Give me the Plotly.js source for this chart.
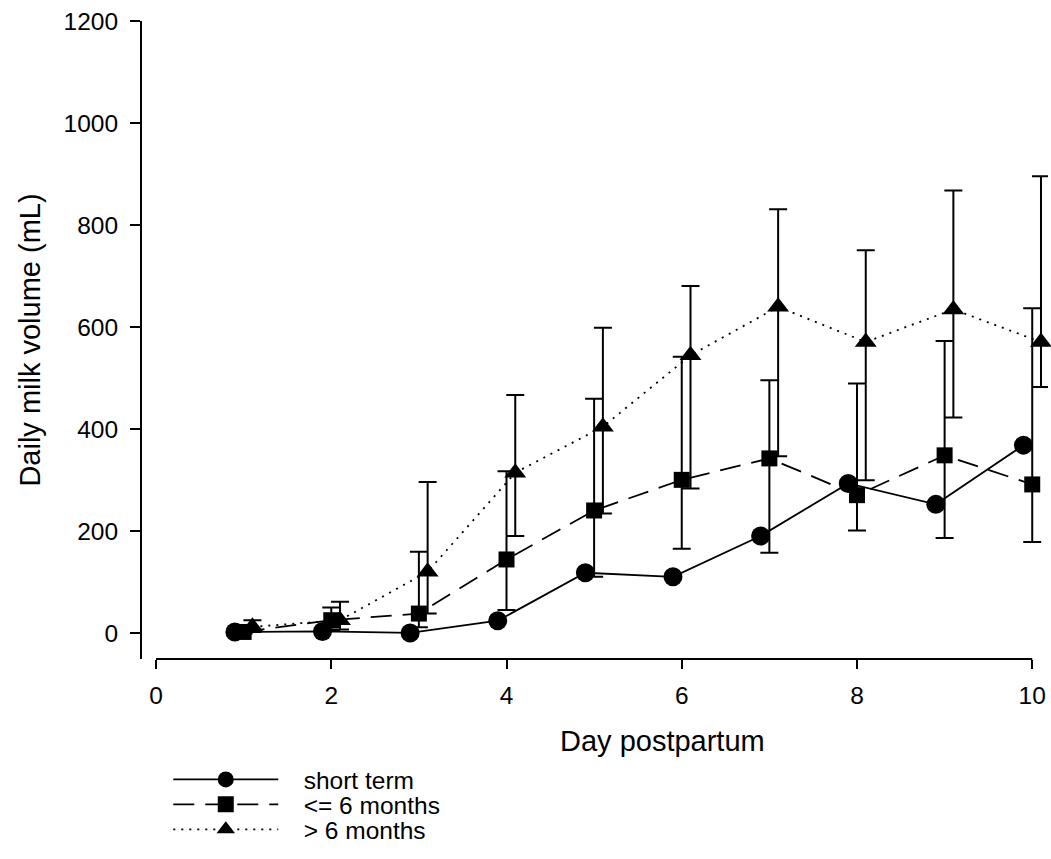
<!DOCTYPE html>
<html><head><meta charset="utf-8">
<script src="https://cdn.plot.ly/plotly-3.0.1.min.js"></script>
<style>html,body{margin:0;padding:0;background:#fff}#chart{width:1051px;height:859px}</style>
</head><body><div id="chart"></div>
<script>
// Day postpartum
const days = [1, 2, 3, 4, 5, 6, 7, 8, 9, 10];
// short term (means only)
const shortTerm = [3, 4, 1, 25, 119, 111, 191, 294, 253, 369];
// <= 6 months
const upTo6 = [3, 26, 39, 145, 241, 301, 343, 271, 349, 292];
const upTo6Upper = [8, 51, 160, 318, 460, 542, 496, 490, 573, 637];
const upTo6Lower = [0, 5, 12, 46, 111, 166, 158, 202, 187, 179];
// > 6 months
const over6 = [13, 26, 121, 315, 405, 545, 640, 571, 635, 571];
const over6Upper = [26, 62, 297, 467, 599, 681, 831, 751, 868, 896];
const over6Lower = [3, 8, 39, 191, 235, 284, 347, 300, 423, 483];
const seriesNames = ['short term', '<= 6 months', '> 6 months'];
const xTicks = [0, 2, 4, 6, 8, 10];
const yTicks = [0, 200, 400, 600, 800, 1000, 1200];

const FONT = 'Liberation Sans, Arial, sans-serif';
const PAD = '\u00a0\u00a0\u00a0';
const shift = (arr, dx) => arr.map(v => v + dx);
const diff = (a, b) => a.map((v, i) => v - b[i]);

const traces = [
  {
    x: shift(days, -0.1), y: shortTerm, name: PAD + seriesNames[0], type: 'scatter', mode: 'lines+markers',
    line: {color: '#000', width: 1.8},
    marker: {symbol: 'circle', size: 19, color: '#000'},
    cliponaxis: false, legend: 'legend'
  },
  {
    x: days, y: upTo6, name: PAD + seriesNames[1], type: 'scatter', mode: 'lines+markers',
    line: {color: '#000', width: 1.8, dash: '21px,11px'},
    marker: {symbol: 'square', size: 16, color: '#000'},
    error_y: {type: 'data', symmetric: false, array: diff(upTo6Upper, upTo6), arrayminus: diff(upTo6, upTo6Lower),
              color: '#000', thickness: 2, width: 9},
    cliponaxis: false, legend: 'legend2'
  },
  {
    x: shift(days, 0.1), y: over6, name: PAD + seriesNames[2], type: 'scatter', mode: 'lines+markers',
    line: {color: '#000', width: 1.8, dash: '2px,6px'},
    marker: {symbol: 'triangle-up', size: 19, color: '#000'},
    error_y: {type: 'data', symmetric: false, array: diff(over6Upper, over6), arrayminus: diff(over6, over6Lower),
              color: '#000', thickness: 2, width: 9},
    cliponaxis: false, legend: 'legend3'
  }
];

const legendBase = {
  x: 0.029, xref: 'paper', xanchor: 'left', yref: 'container', yanchor: 'top',
  font: {family: FONT, size: 24.5, color: '#000'},
  itemwidth: 105, bgcolor: 'rgba(0,0,0,0)', borderwidth: 0
};

const layout = {
  width: 1051, height: 859,
  margin: {l: 142, r: 3, t: 21, b: 200},
  paper_bgcolor: '#fff', plot_bgcolor: '#fff',
  font: {family: FONT, color: '#000', size: 24.5},
  showlegend: true,
  legend: Object.assign({}, legendBase, {y: 0.1188}),
  legend2: Object.assign({}, legendBase, {y: 0.0897}),
  legend3: Object.assign({}, legendBase, {y: 0.0606}),
  xaxis: {
    range: [-0.16, 10.18], tickvals: xTicks, ticktext: xTicks.map(String),
    showgrid: false, zeroline: false, showline: false,
    ticks: 'outside', ticklen: 9, tickwidth: 2, tickcolor: '#000', ticklabelstandoff: 6,
    tickfont: {family: FONT, size: 24.5, color: '#000'}
  },
  yaxis: {
    range: [-50, 1200], tickvals: yTicks, ticktext: yTicks.map(String),
    showgrid: false, zeroline: false, showline: true, linewidth: 2, linecolor: '#000',
    ticks: 'outside', ticklen: 10, tickwidth: 2, tickcolor: '#000', ticklabelstandoff: 7,
    tickfont: {family: FONT, size: 24.5, color: '#000'},
    title: {text: 'Daily milk volume (mL)', font: {family: FONT, size: 29, color: '#000'}, standoff: 14}
  },
  shapes: [
    {type: 'line', xref: 'x', yref: 'paper', x0: xTicks[0], x1: xTicks[xTicks.length - 1], y0: 0, y1: 0,
     line: {color: '#000', width: 2}}
  ],
  annotations: [
    {text: 'Day postpartum', xref: 'paper', yref: 'paper', x: 0.575, y: -0.128, xanchor: 'center', yanchor: 'middle',
     showarrow: false, font: {family: FONT, size: 29, color: '#000'}}
  ]
};

Plotly.newPlot('chart', traces, layout, {displayModeBar: false, staticPlot: true});
</script></body></html>
